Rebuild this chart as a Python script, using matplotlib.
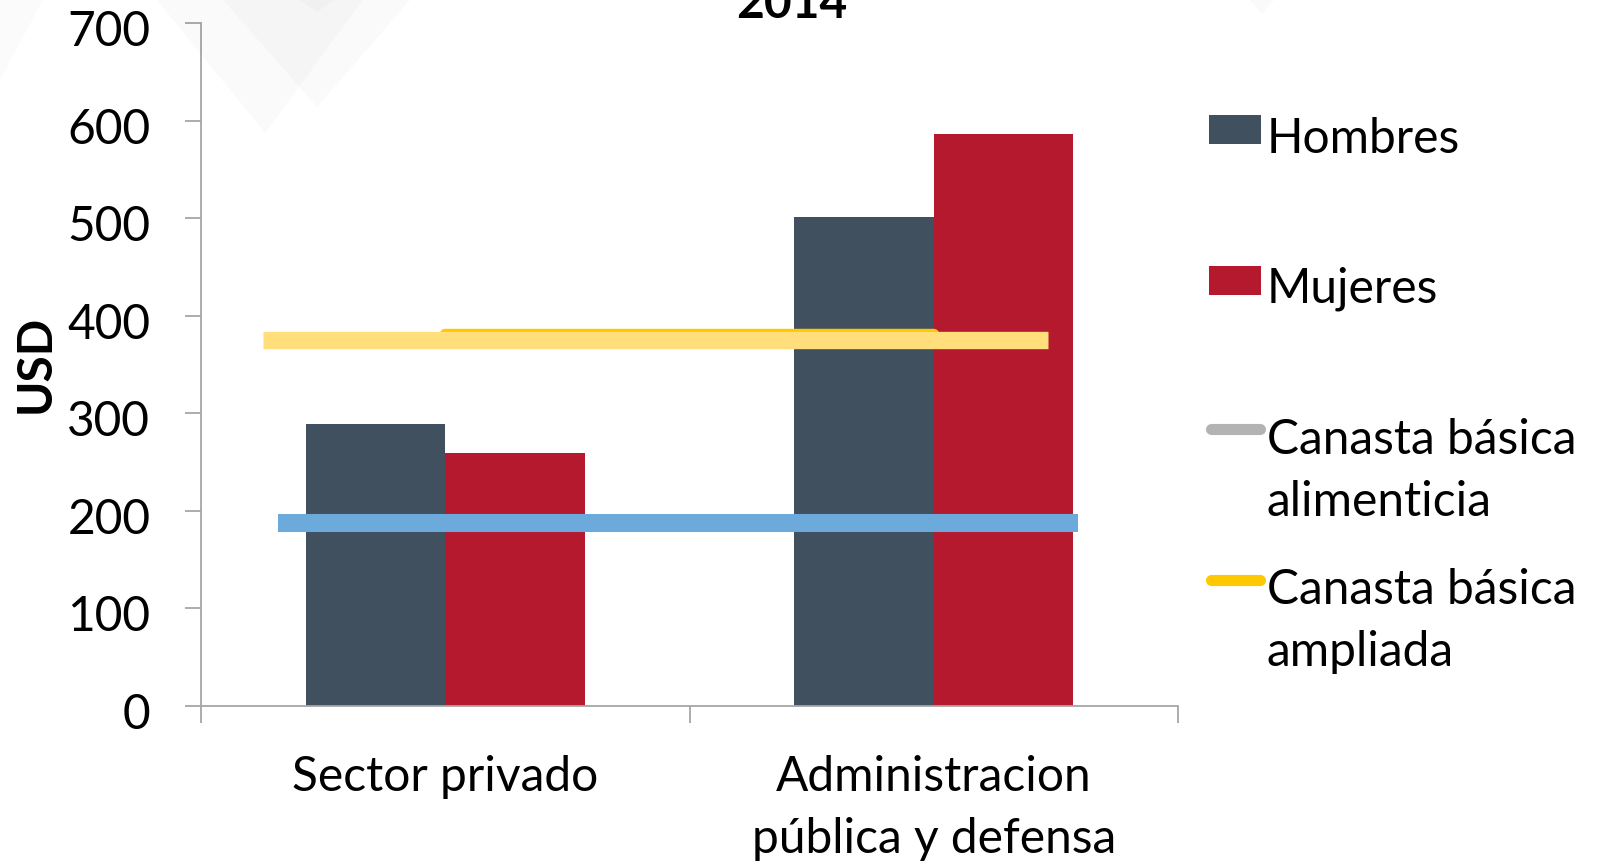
import matplotlib
matplotlib.use("Agg")
import matplotlib.pyplot as plt
from matplotlib.patches import Rectangle, Polygon
from matplotlib.lines import Line2D
from matplotlib.transforms import ScaledTranslation
import numpy as np

# ---------------- data ----------------
categories = ["Sector privado", "Administracion\npública y defensa"]
hombres = [289, 501]
mujeres = [259, 587]
canasta_alimenticia = [188, 188]
canasta_ampliada = [381, 381]
# overlay bands drawn over the chart (values)
band_alimenticia = 188
band_ampliada = 375
yticks = [0, 100, 200, 300, 400, 500, 600, 700]
title = "2014"
ylabel = "USD"
legend_labels = ["Hombres", "Mujeres", "Canasta básica\nalimenticia", "Canasta básica\nampliada"]

# ---------------- style ----------------
W, H = 1598, 867
C_H = "#41505F"
C_M = "#B5192E"
C_GRAY = "#B3B3B3"
C_YEL = "#FFC800"
C_BLUE = "#6CAADB"
C_LYEL = "#FFDE7B"
C_AX = "#A6A6A6"
FONT = "Lato"
FS = 34.5

plt.rcParams['font.family'] = [FONT, 'DejaVu Sans']

fig = plt.figure(figsize=(W / 100, H / 100), dpi=100)
fig.patch.set_facecolor("white")

def fx(px):
    return px / W

def fy(py):
    return 1 - py / H

# background decoration (faint triangles)
bg_polys = [
    ([(0, 0), (43, 0), (0, 80)], 0.016),
    ([(157, 0), (265, 133), (363, 0)], 0.018),
    ([(223, 0), (317, 107), (410, 0)], 0.02),
    ([(300, 0), (317, 12), (334, 0)], 0.02),
    ([(1250, 0), (1262, 14), (1274, 0)], 0.02),
]
for pts, a in bg_polys:
    fig.patches.append(Polygon([(fx(x), fy(y)) for x, y in pts], closed=True,
                               transform=fig.transFigure, facecolor="black",
                               alpha=a, edgecolor="none", zorder=0))

ax_left, ax_right, ax_bottom, ax_top = 201, 1178, 706, 23.4
ax = fig.add_axes([fx(ax_left), fy(ax_bottom), fx(ax_right - ax_left), (ax_bottom - ax_top) / H])
ax.set_facecolor("none")

x = np.arange(len(categories))
bw = 0.286
ax.bar(x - bw / 2, hombres, width=bw, color=C_H, zorder=2, linewidth=0)
ax.bar(x + bw / 2, mujeres, width=bw, color=C_M, zorder=2, linewidth=0)

ax.plot(x, canasta_alimenticia, color=C_GRAY, lw=7.5, solid_capstyle="round", zorder=3)
ax.plot(x, canasta_ampliada, color=C_YEL, lw=7.5, solid_capstyle="round", zorder=3)

# overlay bands
ax.plot([-0.342, 1.295], [band_alimenticia] * 2, color=C_BLUE, lw=13, solid_capstyle="butt", zorder=4)
ax.plot([-0.373, 1.233], [band_ampliada] * 2, color=C_LYEL, lw=12.5, solid_capstyle="butt", zorder=4)

ax.set_xlim(-0.5, 1.5)
ax.set_ylim(0, 700)

for s in ["top", "right"]:
    ax.spines[s].set_visible(False)
for s in ["left", "bottom"]:
    ax.spines[s].set_color(C_AX)
    ax.spines[s].set_linewidth(1.3)

ax.set_yticks(yticks)
ax.set_yticklabels([str(v) for v in yticks], fontsize=FS)
ax.tick_params(axis="y", length=11.5, width=1.3, color=C_AX, pad=25)

ax.set_xticks([-0.5, 0.5, 1.5])
ax.set_xticklabels([])
ax.tick_params(axis="x", which="major", length=12.5, width=1.3, color=C_AX)
ax.set_xticks(x, minor=True)
ax.set_xticklabels(categories, minor=True, fontsize=FS, linespacing=1.52)
ax.tick_params(axis="x", which="minor", length=0, pad=35)

off = ScaledTranslation(0, -5 / 100, fig.dpi_scale_trans)
for lab in ax.get_yticklabels():
    lab.set_transform(lab.get_transform() + off)

# y label
fig.text(fx(35.7), fy(364), ylabel, rotation=90, fontsize=FS, fontweight="bold",
         ha="center", va="center")
# title
fig.text(fx(792), fy(18.5), title, fontsize=FS, fontweight="bold", ha="center", va="baseline")

# manual legend
tx = fx(1267)
fig.patches.append(Rectangle((fx(1209), fy(144)), fx(52), 29 / H, transform=fig.transFigure,
                             facecolor=C_H, edgecolor="none"))
fig.text(tx, fy(153), legend_labels[0], fontsize=FS, ha="left", va="baseline")
fig.patches.append(Rectangle((fx(1209), fy(294.5)), fx(52), 29 / H, transform=fig.transFigure,
                             facecolor=C_M, edgecolor="none"))
fig.text(tx, fy(302.5), legend_labels[1], fontsize=FS, ha="left", va="baseline")

fig.lines.append(Line2D([fx(1211), fx(1260)], [fy(429), fy(429)], transform=fig.transFigure,
                        color=C_GRAY, lw=8, solid_capstyle="round"))
l1, l2 = legend_labels[2].split("\n")
fig.text(tx, fy(453.5), l1, fontsize=FS, ha="left", va="baseline")
fig.text(tx, fy(515.7), l2, fontsize=FS, ha="left", va="baseline")

fig.lines.append(Line2D([fx(1211), fx(1260)], [fy(580), fy(580)], transform=fig.transFigure,
                        color=C_YEL, lw=8, solid_capstyle="round"))
l1, l2 = legend_labels[3].split("\n")
fig.text(tx, fy(604), l1, fontsize=FS, ha="left", va="baseline")
fig.text(tx, fy(666.5), l2, fontsize=FS, ha="left", va="baseline")

fig.savefig("out.png", dpi=100)
